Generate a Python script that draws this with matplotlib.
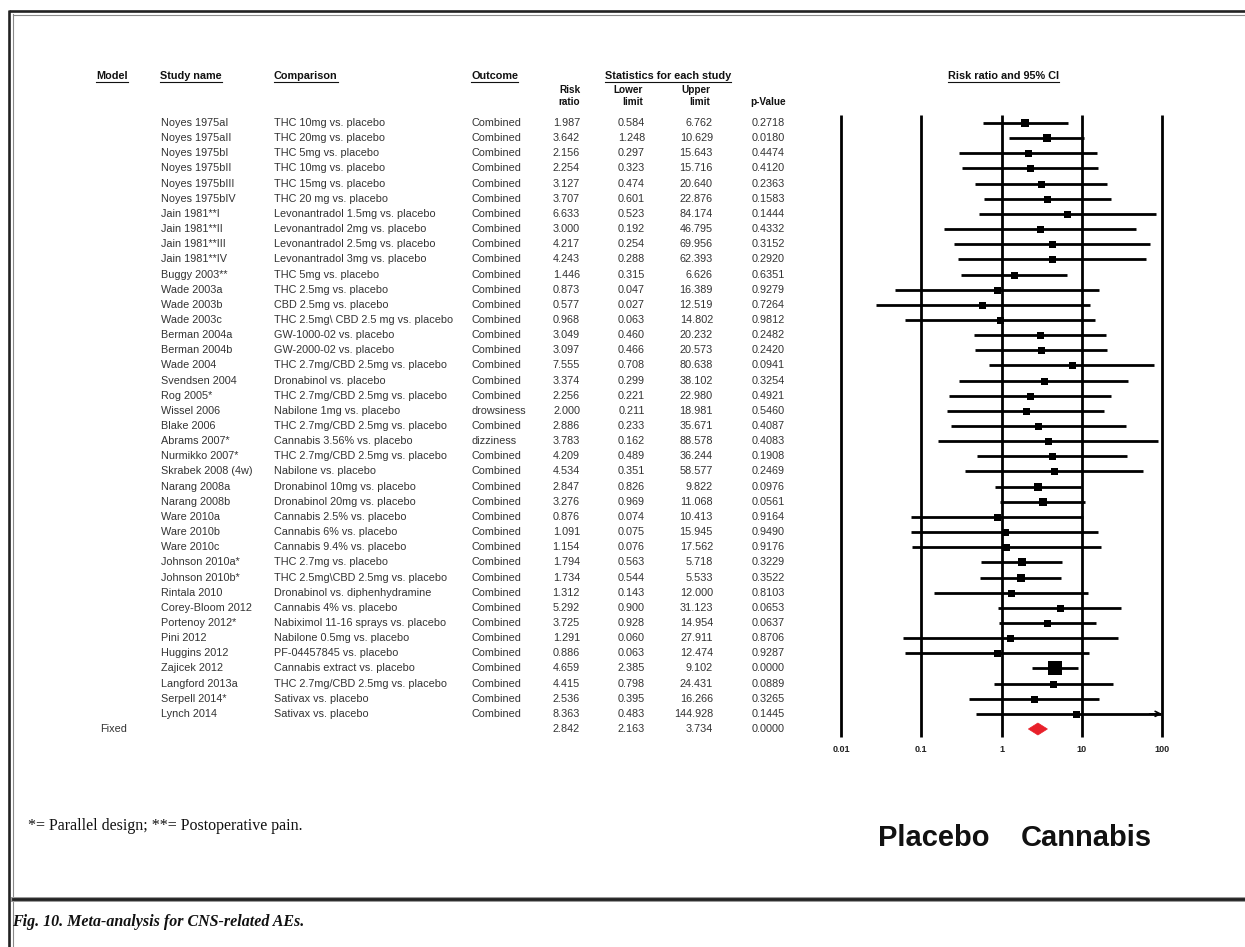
import numpy as np
import matplotlib
matplotlib.use("Agg")
import matplotlib.pyplot as plt
from matplotlib.lines import Line2D
from matplotlib.patches import Polygon

# ---------------- data ----------------
studies = ["Noyes 1975aI", "Noyes 1975aII", "Noyes 1975bI", "Noyes 1975bII", "Noyes 1975bIII",
           "Noyes 1975bIV", "Jain 1981**I", "Jain 1981**II", "Jain 1981**III", "Jain 1981**IV",
           "Buggy 2003**", "Wade 2003a", "Wade 2003b", "Wade 2003c", "Berman 2004a", "Berman 2004b",
           "Wade 2004", "Svendsen 2004", "Rog 2005*", "Wissel 2006", "Blake 2006", "Abrams 2007*",
           "Nurmikko 2007*", "Skrabek 2008 (4w)", "Narang 2008a", "Narang 2008b", "Ware 2010a",
           "Ware 2010b", "Ware 2010c", "Johnson 2010a*", "Johnson 2010b*", "Rintala 2010",
           "Corey-Bloom 2012", "Portenoy 2012*", "Pini 2012", "Huggins 2012", "Zajicek 2012",
           "Langford 2013a", "Serpell 2014*", "Lynch 2014"]
comparisons = ["THC 10mg vs. placebo", "THC 20mg vs. placebo", "THC 5mg vs. placebo",
               "THC 10mg vs. placebo", "THC 15mg vs. placebo", "THC 20 mg vs. placebo",
               "Levonantradol 1.5mg vs. placebo", "Levonantradol 2mg vs. placebo",
               "Levonantradol 2.5mg vs. placebo", "Levonantradol 3mg vs. placebo",
               "THC 5mg vs. placebo", "THC 2.5mg vs. placebo", "CBD 2.5mg vs. placebo",
               "THC 2.5mg\\ CBD 2.5 mg vs. placebo", "GW-1000-02 vs. placebo", "GW-2000-02 vs. placebo",
               "THC 2.7mg/CBD 2.5mg vs. placebo", "Dronabinol vs. placebo",
               "THC 2.7mg/CBD 2.5mg vs. placebo", "Nabilone 1mg vs. placebo",
               "THC 2.7mg/CBD 2.5mg vs. placebo", "Cannabis 3.56% vs. placebo",
               "THC 2.7mg/CBD 2.5mg vs. placebo", "Nabilone vs. placebo",
               "Dronabinol 10mg vs. placebo", "Dronabinol 20mg vs. placebo",
               "Cannabis 2.5% vs. placebo", "Cannabis 6% vs. placebo", "Cannabis 9.4% vs. placebo",
               "THC 2.7mg vs. placebo", "THC 2.5mg\\CBD 2.5mg vs. placebo",
               "Dronabinol vs. diphenhydramine", "Cannabis 4% vs. placebo",
               "Nabiximol 11-16 sprays vs. placebo", "Nabilone 0.5mg vs. placebo",
               "PF-04457845 vs. placebo", "Cannabis extract vs. placebo",
               "THC 2.7mg/CBD 2.5mg vs. placebo", "Sativax vs. placebo", "Sativax vs. placebo"]
outcomes = ["Combined"] * 19 + ["drowsiness", "Combined", "dizziness"] + ["Combined"] * 18
rr = [1.987, 3.642, 2.156, 2.254, 3.127, 3.707, 6.633, 3.000, 4.217, 4.243, 1.446, 0.873, 0.577,
      0.968, 3.049, 3.097, 7.555, 3.374, 2.256, 2.000, 2.886, 3.783, 4.209, 4.534, 2.847, 3.276,
      0.876, 1.091, 1.154, 1.794, 1.734, 1.312, 5.292, 3.725, 1.291, 0.886, 4.659, 4.415, 2.536, 8.363]
lower = [0.584, 1.248, 0.297, 0.323, 0.474, 0.601, 0.523, 0.192, 0.254, 0.288, 0.315, 0.047, 0.027,
         0.063, 0.460, 0.466, 0.708, 0.299, 0.221, 0.211, 0.233, 0.162, 0.489, 0.351, 0.826, 0.969,
         0.074, 0.075, 0.076, 0.563, 0.544, 0.143, 0.900, 0.928, 0.060, 0.063, 2.385, 0.798, 0.395, 0.483]
upper = [6.762, 10.629, 15.643, 15.716, 20.640, 22.876, 84.174, 46.795, 69.956, 62.393, 6.626,
         16.389, 12.519, 14.802, 20.232, 20.573, 80.638, 38.102, 22.980, 18.981, 35.671, 88.578,
         36.244, 58.577, 9.822, 11.068, 10.413, 15.945, 17.562, 5.718, 5.533, 12.000, 31.123,
         14.954, 27.911, 12.474, 9.102, 24.431, 16.266, 144.928]
pvals = [0.2718, 0.0180, 0.4474, 0.4120, 0.2363, 0.1583, 0.1444, 0.4332, 0.3152, 0.2920, 0.6351,
         0.9279, 0.7264, 0.9812, 0.2482, 0.2420, 0.0941, 0.3254, 0.4921, 0.5460, 0.4087, 0.4083,
         0.1908, 0.2469, 0.0976, 0.0561, 0.9164, 0.9490, 0.9176, 0.3229, 0.3522, 0.8103, 0.0653,
         0.0637, 0.8706, 0.9287, 0.0000, 0.0889, 0.3265, 0.1445]
fixed_label = "Fixed"
fixed_rr, fixed_lower, fixed_upper, fixed_p = 2.842, 2.163, 3.734, 0.0000
axis_ticks = [0.01, 0.1, 1, 10, 100]
axis_tick_labels = ["0.01", "0.1", "1", "10", "100"]

# ---------------- layout ----------------
W, H = 1245, 947
fig = plt.figure(figsize=(W / 100, H / 100), dpi=100)
bg = fig.add_axes([0, 0, 1, 1])
bg.set_xlim(0, W)
bg.set_ylim(H, 0)
bg.axis("off")

SANS = ["Liberation Sans", "DejaVu Sans"]
SERIF = ["Liberation Serif", "DejaVu Serif"]
TXT = "#333333"
FS = 7.8

row0, dy = 123.0, 15.15
ys = [row0 + i * dy for i in range(len(studies))]
y_fixed = row0 + len(studies) * dy

# frame
bg.add_line(Line2D([9, W], [11, 11], color="#222222", lw=1.9, solid_capstyle="butt"))
bg.add_line(Line2D([12.5, W], [14.5, 14.5], color="#8a8a8a", lw=0.8))
bg.add_line(Line2D([9, 9], [10, H], color="#222222", lw=1.9, solid_capstyle="butt"))
bg.add_line(Line2D([12.5, 12.5], [14, H], color="#8a8a8a", lw=0.8))
bg.add_line(Line2D([12.5, W], [898.5, 898.5], color="#9a9a9a", lw=3.6))
bg.add_line(Line2D([12.5, W], [898.5, 898.5], color="#222222", lw=2.0))

# headers
hdr_specs = [("Model", 96, "left"), ("Study name", 160, "left"), ("Comparison", 274, "left"),
             ("Outcome", 471, "left"), ("Statistics for each study", 668, "center"),
             ("Risk ratio and 95% CI", 1003, "center")]
hdr_texts = []
for s, x, ha in hdr_specs:
    t = bg.text(x, 76, s, ha=ha, va="center", fontsize=7.8, fontweight="bold",
                family=SANS, color="#111111")
    hdr_texts.append(t)

sub_specs = [("Risk\nratio", 580), ("Lower\nlimit", 643), ("Upper\nlimit", 710)]
for s, x in sub_specs:
    bg.text(x, 96, s, ha="right", va="center", fontsize=7.2, fontweight="bold",
            family=SANS, color="#111111", linespacing=1.15)
bg.text(786, 102, "p-Value", ha="right", va="center", fontsize=7.2, fontweight="bold",
        family=SANS, color="#111111")

# rows
for i, y in enumerate(ys):
    bg.text(161, y, studies[i], ha="left", va="center", fontsize=FS, family=SANS, color=TXT)
    bg.text(274, y, comparisons[i], ha="left", va="center", fontsize=FS, family=SANS, color=TXT)
    bg.text(471, y, outcomes[i], ha="left", va="center", fontsize=FS, family=SANS, color=TXT)
    bg.text(580, y, f"{rr[i]:.3f}", ha="right", va="center", fontsize=FS, family=SANS, color=TXT)
    bg.text(645, y, f"{lower[i]:.3f}", ha="right", va="center", fontsize=FS, family=SANS, color=TXT)
    bg.text(713, y, f"{upper[i]:.3f}", ha="right", va="center", fontsize=FS, family=SANS, color=TXT)
    bg.text(785, y, f"{pvals[i]:.4f}", ha="right", va="center", fontsize=FS, family=SANS, color=TXT)

bg.text(100, y_fixed, fixed_label, ha="left", va="center", fontsize=FS, family=SANS, color=TXT)
bg.text(580, y_fixed, f"{fixed_rr:.3f}", ha="right", va="center", fontsize=FS, family=SANS, color=TXT)
bg.text(645, y_fixed, f"{fixed_lower:.3f}", ha="right", va="center", fontsize=FS, family=SANS, color=TXT)
bg.text(713, y_fixed, f"{fixed_upper:.3f}", ha="right", va="center", fontsize=FS, family=SANS, color=TXT)
bg.text(785, y_fixed, f"{fixed_p:.4f}", ha="right", va="center", fontsize=FS, family=SANS, color=TXT)

# footnote, labels, caption
bg.text(989, 838, "Placebo", ha="right", va="center", fontsize=21, fontweight="bold",
        family=SANS, color="#111111")
bg.text(1021, 838, "Cannabis", ha="left", va="center", fontsize=21, fontweight="bold",
        family=SANS, color="#111111")
bg.text(28, 826, "*= Parallel design; **= Postoperative pain.", ha="left", va="center",
        fontsize=11.5, family=SERIF, color="#111111")
bg.text(12, 922, "Fig. 10. Meta-analysis for CNS-related AEs.", ha="left", va="center",
        fontsize=11.5, family=SERIF, style="italic", fontweight="bold", color="#111111")

# ---------------- forest plot ----------------
x0, x1 = 841, 1162
fx = fig.add_axes([x0 / W, 0, (x1 - x0) / W, 1])
fx.set_xscale("log")
fx.set_xlim(axis_ticks[0], axis_ticks[-1])
fx.set_ylim(H, 0)
fx.axis("off")

fx.vlines(axis_ticks, 115, 737, color="black", lw=2.0, clip_on=False)
for t, lab in zip(axis_ticks, axis_tick_labels):
    fx.text(t, 749, lab, ha="center", va="center", fontsize=6.5, fontweight="bold",
            family=SANS, color="#222222", clip_on=False)

xmax = axis_ticks[-1]
for i, y in enumerate(ys):
    se = (np.log(upper[i]) - np.log(lower[i])) / 3.92
    w = 1.0 / se ** 2
    side_px = max(7.0, 4.5 * np.sqrt(w))
    if upper[i] > xmax:
        fx.plot([lower[i], xmax * 0.97], [y, y], color="black", lw=2.0, solid_capstyle="butt")
        fx.annotate("", xy=(xmax, y), xytext=(xmax * 0.7, y),
                    arrowprops=dict(arrowstyle="->", color="black", lw=1.2,
                                    mutation_scale=9, shrinkA=0, shrinkB=0),
                    annotation_clip=False)
    else:
        fx.plot([lower[i], upper[i]], [y, y], color="black", lw=2.0, solid_capstyle="butt")
    fx.plot([rr[i]], [y], marker="s", color="black", markersize=side_px * 0.72,
            markeredgewidth=0)

dh = 6.0
diamond = Polygon([(fixed_lower, y_fixed), (fixed_rr, y_fixed - dh),
                   (fixed_upper, y_fixed), (fixed_rr, y_fixed + dh)],
                  closed=True, facecolor="#e8202a", edgecolor="#e8202a", lw=0.5)
fx.add_patch(diamond)

# underline headers
fig.canvas.draw()
r = fig.canvas.get_renderer()
for t in hdr_texts:
    bb = t.get_window_extent(renderer=r)
    yb = bb.y0 - 1.0
    fig.add_artist(Line2D([bb.x0 / W, bb.x1 / W], [yb / H, yb / H], transform=fig.transFigure,
                          color="#111111", lw=0.8))

fig.savefig("out.png", dpi=100)
